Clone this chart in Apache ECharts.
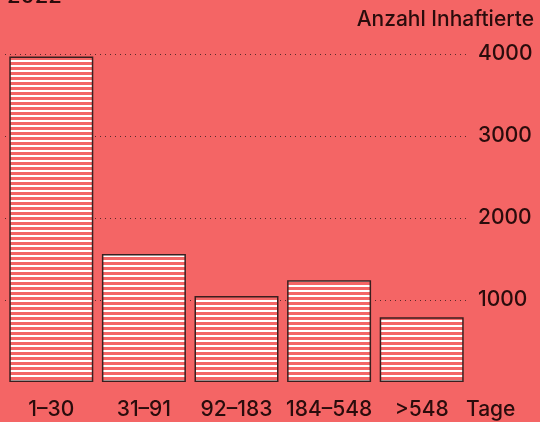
<!DOCTYPE html>
<html lang="de">
<head>
    <meta charset="UTF-8">
    <title>Haftdauer 2022</title>
    <script src="https://cdn.jsdelivr.net/npm/echarts@6/dist/echarts.min.js"></script>
    <style>
        html, body { margin: 0; padding: 0; background: #f46565; }
        #main { width: 540px; height: 422px; }
    </style>
</head>
<body>
    <div id="main"></div>
    <script>
        const categories = ['1–30', '31–91', '92–183', '184–548', '>548']
        const inmates = [3970, 1560, 1050, 1240, 790]
        const yTicks = [1000, 2000, 3000, 4000]

        const bg = '#f46565'
        const ink = '#2a0c0c'
        const font = 'Inter'

        // white horizontal stripes for the bars
        const stripe = document.createElement('canvas')
        stripe.width = 8
        stripe.height = 5
        const ctx = stripe.getContext('2d')
        ctx.fillStyle = bg
        ctx.fillRect(0, 0, 8, 5)
        ctx.fillStyle = '#ffffff'
        ctx.fillRect(0, 0, 8, 2)

        const chart = echarts.init(document.getElementById('main'))

        chart.setOption({
            backgroundColor: bg,
            animation: false,
            textStyle: { fontFamily: font, color: ink },
            title: [
                {
                    text: '2022',
                    left: 2,
                    top: -20,
                    textStyle: { fontFamily: font, fontSize: 22, fontWeight: 500, color: ink }
                },
                {
                    text: 'Anzahl Inhaftierte',
                    right: 1,
                    top: 4,
                    textStyle: { fontFamily: font, fontSize: 21, fontWeight: 500, color: ink }
                }
            ],
            grid: {
                left: 5, right: 72, top: 54, bottom: 40,
                containLabel: false,
                outerBoundsMode: 'none'
            },
            xAxis: {
                type: 'category',
                data: categories,
                name: 'Tage',
                nameLocation: 'end',
                nameGap: -2,
                nameTextStyle: {
                    fontFamily: font, fontSize: 21, fontWeight: 500, color: ink,
                    verticalAlign: 'top', align: 'left', padding: [17, 0, 0, 0]
                },
                axisLine: { show: false },
                axisTick: { show: false },
                axisLabel: {
                    interval: 0, fontFamily: font, fontSize: 21, fontWeight: 500,
                    color: ink, margin: 17
                }
            },
            yAxis: {
                type: 'value',
                position: 'right',
                min: 0,
                max: 4000,
                interval: 1000,
                axisLine: { show: false },
                axisTick: { show: false },
                axisLabel: {
                    fontFamily: font, fontSize: 21, fontWeight: 500, color: ink, margin: 10,
                    formatter: v => yTicks.includes(v) ? String(v) : ''
                },
                splitLine: {
                    show: true,
                    // first colour is the zero line, which the reference leaves out
                    lineStyle: {
                        color: ['rgba(0,0,0,0)', '#5a2a2a', '#5a2a2a', '#5a2a2a', '#5a2a2a'],
                        type: [1, 4],
                        width: 1
                    }
                }
            },
            series: [{
                type: 'bar',
                data: inmates,
                barWidth: 84,
                itemStyle: {
                    color: { image: stripe, repeat: 'repeat' },
                    borderColor: '#3a1e1e',
                    borderWidth: 1.5
                }
            }]
        })
    </script>
</body>
</html>
